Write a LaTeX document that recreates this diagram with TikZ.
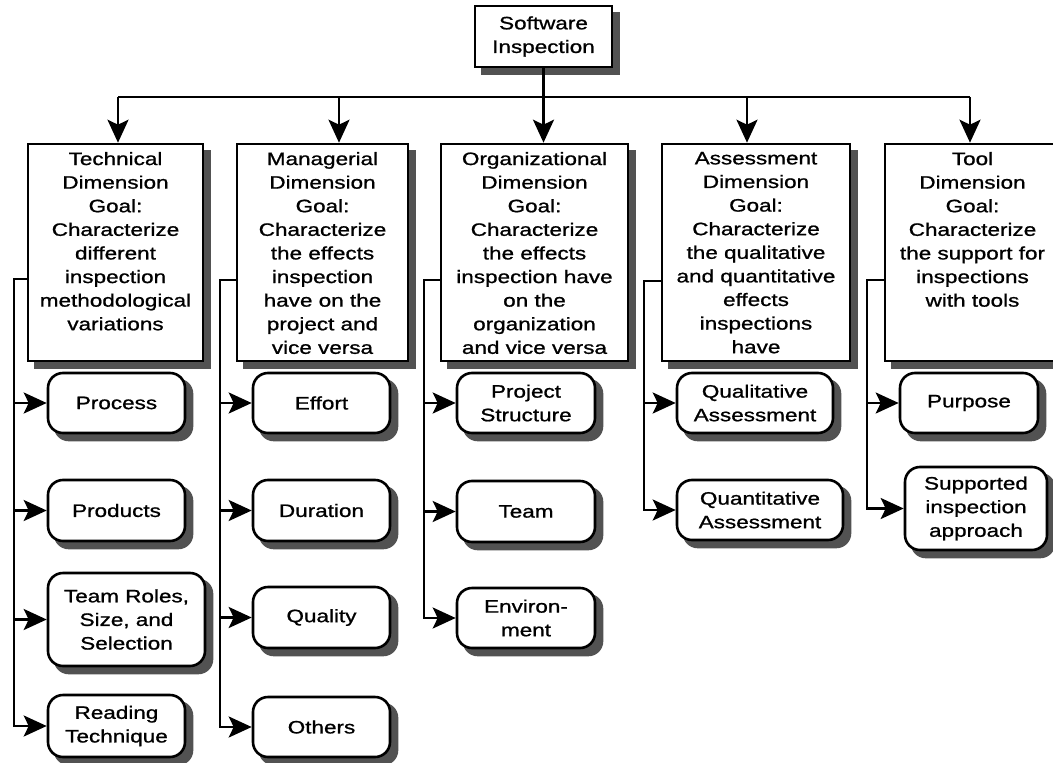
\documentclass[tikz,border=0pt]{standalone}
\usepackage{fontspec}
\setmainfont{Liberation Sans}[FakeStretch=1.25,FakeBold=1]
\usetikzlibrary{arrows.meta}

% goal text of a dimension box: fixed height, set from the top
\newcommand\goaltext[3]{\parbox[c][#2pt][t]{#1pt}{\centering #3}}

\pgfdeclarelayer{shadow}
\pgfsetlayers{shadow,main}

\begin{document}
\begin{tikzpicture}[x=1pt,y=-1pt,
  every node/.style={font=\fontsize{18}{23.6}\selectfont},
  shadowfill/.style={fill=black!68},
  dimbox/.style={draw,line width=2.6pt,fill=white,inner sep=0pt},
  itembox/.style={draw,line width=2.6pt,fill=white,inner sep=0pt,
    rounded corners=15pt,align=center},
  link/.style={line width=2.5pt},
  arr/.style={link,-{Stealth[length=23pt,width=21pt,inset=5pt]}}]

\useasboundingbox (0,0) rectangle (1053,763);
\clip (0,0) rectangle (1053,763);

% root
\node[dimbox,align=center,minimum width=137pt,minimum height=61pt]
  (top) at (543.5,36.5) {Software\\Inspection};

% the five dimensions
\node[dimbox,minimum width=175pt,minimum height=217pt] (tech) at (115.5,252.5)
  {\goaltext{175}{201}{Technical\\Dimension\\Goal:\\Characterize\\different\\inspection\\methodological\\variations}};
\node[dimbox,minimum width=171pt,minimum height=217pt] (man) at (322.5,252.5)
  {\goaltext{171}{201}{Managerial\\Dimension\\Goal:\\Characterize\\the effects\\inspection\\have on the\\project and\\vice versa}};
\node[dimbox,minimum width=187pt,minimum height=217pt] (org) at (534.5,252.5)
  {\goaltext{187}{201}{Organizational\\Dimension\\Goal:\\Characterize\\the effects\\inspection have\\on the\\organization\\and vice versa}};
\node[dimbox,minimum width=188pt,minimum height=217pt] (ass) at (756,252.5)
  {\goaltext{188}{201}{Assessment\\Dimension\\Goal:\\Characterize\\the qualitative\\and quantitative\\effects\\inspections\\have}};
\node[dimbox,minimum width=175pt,minimum height=217pt] (tool) at (972.5,252.5)
  {\goaltext{175}{201}{Tool\\Dimension\\Goal:\\Characterize\\the support for\\inspections\\with tools}};

% technical aspects
\node[itembox,minimum width=137pt,minimum height=60pt] (process) at (116.5,403) {Process};
\node[itembox,minimum width=137pt,minimum height=61pt] (products) at (116.5,510.5) {Products};
\node[itembox,minimum width=157pt,minimum height=93pt] (roles) at (126.5,619.5) {Team Roles,\\Size, and\\Selection};
\node[itembox,minimum width=137pt,minimum height=62pt] (reading) at (116.5,726) {Reading\\Technique};

% managerial aspects
\node[itembox,minimum width=137pt,minimum height=60pt] (effort) at (321.5,403) {Effort};
\node[itembox,minimum width=137pt,minimum height=61pt] (duration) at (321.5,510.5) {Duration};
\node[itembox,minimum width=137pt,minimum height=61pt] (quality) at (321.5,617.5) {Quality};
\node[itembox,minimum width=137pt,minimum height=60pt] (others) at (321.5,727) {Others};

% organizational aspects
\node[itembox,minimum width=138pt,minimum height=60pt] (pstruct) at (526,403) {Project\\Structure};
\node[itembox,minimum width=138pt,minimum height=61pt] (team) at (526,511.5) {Team};
\node[itembox,minimum width=138pt,minimum height=60pt] (environ) at (526,618) {Environ-\\ment};

% assessment aspects
\node[itembox,minimum width=156pt,minimum height=60pt] (qual) at (755,403) {Qualitative\\Assessment};
\node[itembox,minimum width=166pt,minimum height=60pt] (quant) at (760,510) {Quantitative\\Assessment};

% tool aspects
\node[itembox,minimum width=138pt,minimum height=60pt] (purpose) at (969,403) {Purpose};
\node[itembox,minimum width=142pt,minimum height=83pt] (supported) at (976,508.5) {Supported\\inspection\\approach};

% offset shadows behind the boxes
\begin{pgfonlayer}{shadow}
  \foreach \n in {top,tech,man,org,ass,tool}
    \fill[shadowfill] ([shift={(7,7)}]\n.north west) rectangle ([shift={(7,7)}]\n.south east);
  \foreach \n in {process,products,roles,reading,effort,duration,quality,others,
                  pstruct,team,environ,qual,quant,purpose,supported}
    \fill[shadowfill,rounded corners=15pt]
      ([shift={(7,7)}]\n.north west) rectangle ([shift={(7,7)}]\n.south east);
\end{pgfonlayer}

% distribution bus from the root
\coordinate (b1) at (118,97);
\coordinate (b2) at (339,97);
\coordinate (b4) at (747,97);
\coordinate (b5) at (970,97);
\draw[link] (b1) -- (b5);
\draw[arr] (b1) -- (b1 |- tech.north);
\draw[arr] (b2) -- (b2 |- man.north);
\draw[arr] (top.south) -- (top.south |- org.north);
\draw[arr] (b4) -- (b4 |- ass.north);
\draw[arr] (b5) -- (b5 |- tool.north);

% spines of the dimensions
\coordinate (s1) at (14,279);
\coordinate (s2) at (220,280);
\coordinate (s3) at (424,280);
\coordinate (s4) at (644,281);
\coordinate (s5) at (867,280);

\draw[arr] (tech.west |- s1) -- (s1) |- (reading.west);
\draw[arr] (s1 |- process.west) -- (process.west);
\draw[arr] (s1 |- products.west) -- (products.west);
\draw[arr] (s1 |- roles.west) -- (roles.west);

\draw[arr] (man.west |- s2) -- (s2) |- (others.west);
\draw[arr] (s2 |- effort.west) -- (effort.west);
\draw[arr] (s2 |- duration.west) -- (duration.west);
\draw[arr] (s2 |- quality.west) -- (quality.west);

\draw[arr] (org.west |- s3) -- (s3) |- (environ.west);
\draw[arr] (s3 |- pstruct.west) -- (pstruct.west);
\draw[arr] (s3 |- team.west) -- (team.west);

\draw[arr] (ass.west |- s4) -- (s4) |- (quant.west);
\draw[arr] (s4 |- qual.west) -- (qual.west);

\draw[arr] (tool.west |- s5) -- (s5) |- (supported.west);
\draw[arr] (s5 |- purpose.west) -- (purpose.west);
\end{tikzpicture}
\end{document}
